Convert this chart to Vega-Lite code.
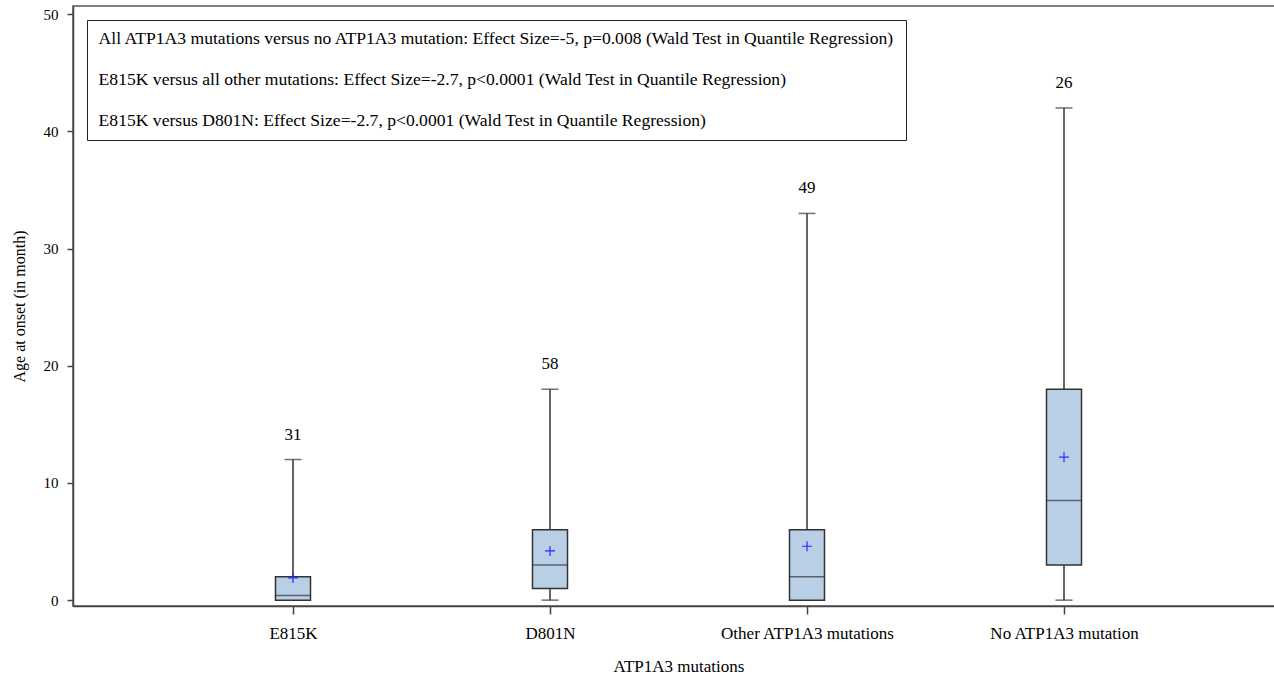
{
  "$schema": "https://vega.github.io/schema/vega-lite/v6.json",
  "autosize": {"type": "none"},
  "width": 1211,
  "height": 600,
  "padding": {"left": 73, "top": 6, "right": -10, "bottom": 71},
  "background": "white",
  "config": {
    "font": "Liberation Serif",
    "view": {"stroke": "#555", "strokeWidth": 1.5},
    "axis": {
      "domainColor": "#444", "domainWidth": 1.5,
      "tickColor": "#444", "tickWidth": 1.5,
      "labelColor": "black", "titleColor": "black",
      "labelFont": "Liberation Serif", "titleFont": "Liberation Serif",
      "titleFontWeight": "normal", "grid": false
    },
    "legend": {
      "labelFont": "Liberation Serif", "labelFontSize": 17.6, "labelColor": "black",
      "labelLimit": 2000, "symbolSize": 0, "symbolOpacity": 0, "symbolStrokeWidth": 0,
      "strokeColor": "#222", "fillColor": "white", "padding": 10, "rowPadding": 22,
      "labelOffset": -16, "orient": "top-left", "offset": 14
    }
  },
  "datasets": {
    "boxes": [
      {"group": "E815K", "lower": 0, "q1": 0, "median": 0.4, "q3": 2, "upper": 12, "mean": 1.9, "n": 31},
      {"group": "D801N", "lower": 0, "q1": 1, "median": 3, "q3": 6, "upper": 18, "mean": 4.2, "n": 58},
      {"group": "Other ATP1A3 mutations", "lower": 0, "q1": 0, "median": 2, "q3": 6, "upper": 33, "mean": 4.6, "n": 49},
      {"group": "No ATP1A3 mutation", "lower": 0, "q1": 3, "median": 8.5, "q3": 18, "upper": 42, "mean": 12.2, "n": 26}
    ],
    "notes": [
      {"note": "All ATP1A3 mutations versus no ATP1A3 mutation: Effect Size=-5, p=0.008 (Wald Test in Quantile Regression)"},
      {"note": "E815K versus all other mutations: Effect Size=-2.7, p<0.0001 (Wald Test in Quantile Regression)"},
      {"note": "E815K versus D801N: Effect Size=-2.7, p<0.0001 (Wald Test in Quantile Regression)"}
    ]
  },
  "layer": [
    {
      "data": {"name": "boxes"},
      "encoding": {
        "x": {
          "field": "group", "type": "nominal", "sort": null,
          "scale": {"type": "point", "padding": 0.856},
          "axis": {
            "title": "ATP1A3 mutations", "labelAngle": 0, "labelFontSize": 17,
            "titleFontSize": 17, "tickSize": 8, "labelPadding": 11, "titlePadding": 17
          }
        }
      },
      "layer": [
        {
          "mark": {"type": "rule", "color": "#333", "strokeWidth": 1.5},
          "encoding": {
            "y": {
              "field": "lower", "type": "quantitative",
              "scale": {"domain": [-0.5, 50.7], "nice": false, "zero": false},
              "axis": {
                "title": "Age at onset (in month)", "values": [0, 10, 20, 30, 40, 50],
                "labelFontSize": 15, "titleFontSize": 16, "tickSize": 6,
                "labelPadding": 9, "titlePadding": 16
              }
            },
            "y2": {"field": "upper"}
          }
        },
        {
          "mark": {"type": "tick", "color": "#333", "size": 17, "thickness": 1.5},
          "encoding": {"y": {"field": "upper", "type": "quantitative"}}
        },
        {
          "mark": {"type": "tick", "color": "#333", "size": 17, "thickness": 1.5},
          "encoding": {"y": {"field": "lower", "type": "quantitative"}}
        },
        {
          "mark": {"type": "bar", "width": 35, "fill": "#b9cfe6", "stroke": "#333", "strokeWidth": 1.5},
          "encoding": {
            "y": {"field": "q1", "type": "quantitative"},
            "y2": {"field": "q3"}
          }
        },
        {
          "mark": {"type": "tick", "color": "#333", "size": 35, "thickness": 1.5},
          "encoding": {"y": {"field": "median", "type": "quantitative"}}
        },
        {
          "mark": {"type": "point", "shape": "M-1,0L1,0M0,-1L0,1", "size": 100, "stroke": "#2a2aff", "strokeWidth": 1.2, "filled": false, "opacity": 1},
          "encoding": {"y": {"field": "mean", "type": "quantitative"}}
        },
        {
          "mark": {"type": "text", "fontSize": 17, "color": "black", "dy": -25, "baseline": "middle"},
          "encoding": {
            "y": {"field": "upper", "type": "quantitative"},
            "text": {"field": "n", "type": "quantitative"}
          }
        }
      ]
    },
    {
      "data": {"name": "notes"},
      "mark": {"type": "point", "opacity": 0, "size": 0},
      "encoding": {
        "color": {
          "field": "note", "type": "nominal", "sort": null,
          "scale": {"range": ["black"]},
          "legend": {"title": null}
        }
      }
    }
  ]
}
